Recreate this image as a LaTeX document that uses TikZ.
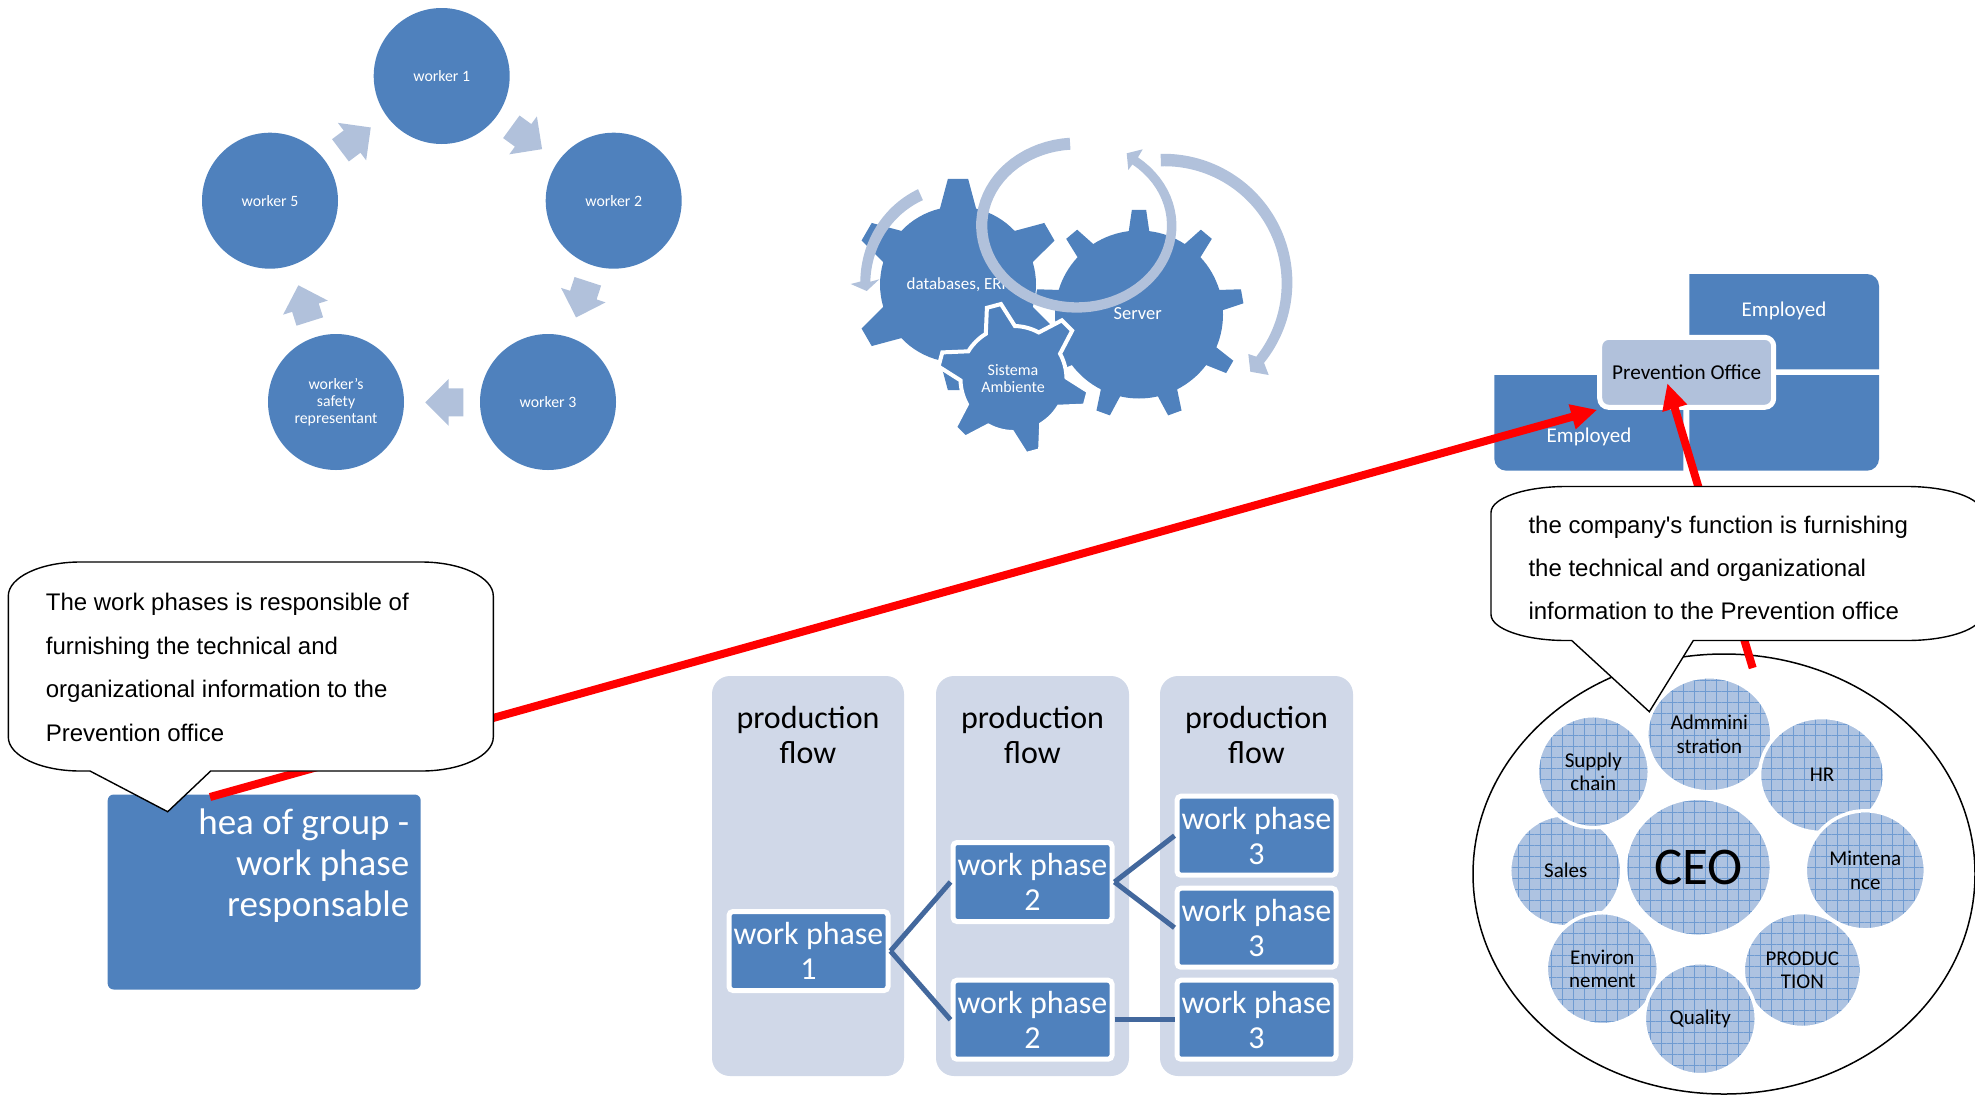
\documentclass[tikz,border=0pt]{standalone}
\usepackage{fontspec}
\setmainfont{Carlito}
\newfontfamily\bubblefont{Liberation Sans}
\usetikzlibrary{arrows.meta, positioning, shapes.arrows, shapes.geometric, patterns.meta}

\definecolor{officeblue}{HTML}{4F81BD}
\definecolor{ringblue}{HTML}{B1C1DB}
\definecolor{laneblue}{HTML}{D0D8E8}
\definecolor{linkblue}{HTML}{43689D}
\definecolor{cellblue}{HTML}{AEC3E1}
\definecolor{gridblue}{HTML}{6F9BD1}

\tikzset{
    workercircle/.style={circle, fill=officeblue, text=white, inner sep=0pt, minimum size=136pt, align=center, font=\fontsize{15.8}{17}\selectfont},
    cyclearrow/.style={single arrow, fill=ringblue, anchor=tip, inner xsep=0pt, inner ysep=13.75pt, minimum height=38pt, single arrow head extend=9.5pt, single arrow head indent=0pt},
    gearfill/.style={fill=officeblue},
    gearlabel/.style={text=white, inner sep=0pt, align=center, font=\fontsize{#1}{17}\selectfont},
    lane/.style={fill=laneblue, rounded corners=18pt},
    lanelabel/.style={inner sep=0pt, align=center, font=\fontsize{32}{35}\selectfont},
    phasebox/.style={rectangle, rounded corners=4pt, fill=officeblue, draw=white, line width=5pt, text=white, inner sep=0pt, minimum width=159pt, minimum height=79pt, align=center, font=\fontsize{32}{35}\selectfont},
    phaselink/.style={draw=linkblue, line width=5pt},
    employed/.style={fill=officeblue},
    employedlabel/.style={text=white, inner sep=0pt, font=\fontsize{21}{25}\selectfont},
    officebox/.style={rectangle, rounded corners=9pt, fill=ringblue, draw=white, line width=5pt, inner sep=0pt, minimum width=174pt, minimum height=70pt, font=\fontsize{21.2}{25}\selectfont},
    cell/.style={ellipse, fill=cellblue, inner sep=0pt, outer sep=0pt, align=center, font=\fontsize{21}{23.3}\selectfont,
        postaction={pattern={Lines[angle=0,distance=11pt,line width=0.6pt]}, pattern color=gridblue},
        postaction={pattern={Lines[angle=90,distance=11pt,line width=0.6pt]}, pattern color=gridblue},
        postaction={draw=white, line width=3.5pt}},
    bubble/.style={draw=black, fill=white, line width=1.4pt},
    bubbletext/.style={inner sep=0pt, align=left, anchor=west, font=\bubblefont\fontsize{24}{43.4}\selectfont},
    redarrow/.style={draw=red, line width=8pt, -{Triangle[length=26pt,width=24pt]}},
}

% options; centre; rim and tip radius; half angles of a tooth; first tooth; number of teeth
\newcommand{\gearshape}[9][]{%
    \pgfmathsetmacro{\gearstep}{360/#9}
    \begin{scope}[shift={(#2,#3)},y=1pt]
        \path[gearfill,#1] (#8-#6:#4)
            \foreach \i [evaluate=\i as \a using #8+(\i-1)*\gearstep] in {1,...,#9} {
                -- (\a-#7:#5) -- (\a+#7:#5) -- (\a+#6:#4)
                arc[start angle=\a+#6, delta angle=\gearstep-2*#6, radius=#4]
            } -- cycle;
    \end{scope}
}

% centre; radii; start and end angle; start and end width; the three points of the head
\newcommand{\ringarrow}[9]{%
    \fill[ringblue] plot[domain=#5:#6, samples=70, variable=\t]
            ({#1+(#3+(#7+(#8-#7)*(\t-#5)/(#6-#5))/2)*cos(\t)}, {#2-(#4+(#7+(#8-#7)*(\t-#5)/(#6-#5))/2)*sin(\t)})
        -- #9
        -- plot[domain=#6:#5, samples=70, variable=\t]
            ({#1+(#3-(#7+(#8-#7)*(\t-#5)/(#6-#5))/2)*cos(\t)}, {#2-(#4-(#7+(#8-#7)*(\t-#5)/(#6-#5))/2)*sin(\t)})
        -- cycle;
}

\begin{document}
\begin{tikzpicture}[x=1pt,y=-1pt]
    \useasboundingbox (0,0) rectangle (1975,1098);

    % worker cycle
    \node[workercircle] (worker1) at (441.7,76) {worker 1};
    \node[workercircle] (worker2) at (613.7,200.7) {worker 2};
    \node[workercircle] (worker3) at (548,402) {worker 3};
    \node[workercircle] (safety) at (336,402) {worker's\\safety\\representant};
    \node[workercircle] (worker5) at (270,200.7) {worker 5};
    \node[cyclearrow, rotate=-36] (arrow12) at (542.3,149.3) {};
    \node[cyclearrow, rotate=-108] (arrow23) at (576,317.7) {};
    \node[cyclearrow, rotate=180] (arrow34) at (425,402.3) {};
    \node[cyclearrow, rotate=107.5] (arrow45) at (298.3,285) {};
    \node[cyclearrow, rotate=37] (arrow51) at (371,127.3) {};

    % gears
    \gearshape{1139}{314.5}{84}{105}{7}{3.9}{-150}{9}
    \gearshape{958}{284.5}{78}{106}{13.4}{5.5}{-90}{6}
    \node[gearlabel=17] (databases) at (958.5,285) {databases, ERP};
    \node[gearlabel=18.5] (server) at (1137.7,313.5) {Server};
    \gearshape[draw=white, line width=4pt]{1013.5}{379}{53}{76}{16.5}{5.5}{-135}{6}
    \node[gearlabel=16] (ambiente) at (1013,379) {Sistema\\Ambiente};
    \ringarrow{958.3}{283.3}{93}{97}{114}{179}{12}{10}{(850.7,284) -- (866.7,291) -- (879.3,279.3)}
    \ringarrow{1076.7}{225.5}{95}{82}{94}{412}{12}{9}{(1142.7,149.3) -- (1126.7,153.3) -- (1128.3,170)}
    \ringarrow{1164}{283}{123}{123}{91.5}{-38.6}{12.5}{10}{(1268.7,375) -- (1250.3,371.7) -- (1248.3,354)}

    % production flow
    \fill[lane] (712,676) rectangle (904,1076);
    \fill[lane] (936,676) rectangle (1129,1076);
    \fill[lane] (1160,676) rectangle (1353,1076);
    \node[lanelabel] (flow1) at (808,735) {production\\flow};
    \node[lanelabel] (flow2) at (1032.5,735) {production\\flow};
    \node[lanelabel] (flow3) at (1256.5,735) {production\\flow};
    \node[phasebox] (phase1) at (808.5,951) {work phase\\1};
    \node[phasebox] (phase2a) at (1032.5,882) {work phase\\2};
    \node[phasebox] (phase2b) at (1032.5,1019.7) {work phase\\2};
    \node[phasebox] (phase3a) at (1256.5,835.7) {work phase\\3};
    \node[phasebox] (phase3b) at (1256.5,927.7) {work phase\\3};
    \node[phasebox] (phase3c) at (1256.5,1019.7) {work phase\\3};
    \draw[phaselink] (phase1.east) -- (phase2a.west);
    \draw[phaselink] (phase1.east) -- (phase2b.west);
    \draw[phaselink] (phase2a.east) -- (phase3a.west);
    \draw[phaselink] (phase2a.east) -- (phase3b.west);
    \draw[phaselink] (phase2b.east) -- (phase3c.west);

    % group head
    \node[rectangle, rounded corners=6pt, fill=officeblue, inner sep=0pt, minimum width=313pt, minimum height=195pt] (headbox) at (264.2,892) {};
    \node[text=white, inner sep=0pt, align=right, anchor=north east, font=\fontsize{37}{41}\selectfont] (headtext) at (409.5,808.5) {hea of group -\\work phase\\responsable};

    % employed blocks and office
    \fill[employed] (1689.3,274) -- (1867,274) arc[start angle=270, end angle=360, radius=12] -- (1879,369.3) -- (1689.3,369.3) -- cycle;
    \fill[employed] (1689.3,375) -- (1879,375) -- (1879,458.7) arc[start angle=0, end angle=90, radius=12] -- (1689.3,470.7) -- cycle;
    \fill[employed] (1683.3,375) -- (1683.3,470.7) -- (1506.3,470.7) arc[start angle=90, end angle=180, radius=12] -- (1494.3,375) -- cycle;
    \node[employedlabel] (employed1) at (1784,310.5) {Employed};
    \node[employedlabel] (employed2) at (1589,436.5) {Employed};
    \node[officebox] (office) at (1686.7,372.3) {Prevention Office};

    % departments
    \draw[line width=1.5pt] (1724,874) ellipse[x radius=251, y radius=220];
    \node[cell, minimum width=112pt, minimum height=112pt] (sales) at (1565.7,870.7) {Sales};
    \node[cell, minimum width=112pt, minimum height=112pt] (supply) at (1593.3,771.7) {Supply\\chain};
    \node[cell, minimum width=112pt, minimum height=112pt] (environment) at (1602.3,968.7) {Environ\\nement};
    \node[cell, minimum width=125pt, minimum height=115pt] (administration) at (1709.3,734.3) {Admmini\\stration};
    \node[cell, minimum width=125pt, minimum height=115pt] (hr) at (1822,775) {HR};
    \node[cell, minimum width=120pt, minimum height=119pt] (maintenance) at (1865.3,870.3) {Mintena\\nce};
    \node[cell, minimum width=118pt, minimum height=115pt] (production) at (1802.3,970) {PRODUC\\TION};
    \node[cell, minimum width=112pt, minimum height=112pt] (quality) at (1700.3,1018.7) {Quality};
    \node[cell, minimum width=146pt, minimum height=138pt, font=\fontsize{53}{60}\selectfont] (ceo) at (1698.3,867.3) {CEO};

    % red arrows
    \coordinate (redfoot1) at (210,797);
    \coordinate (redfoot2) at (1752.7,668);
    \coordinate (redtip2) at (1667.3,383.3);
    \draw[redarrow] (redfoot1) -- (office.south west);
    \draw[redarrow] (redfoot2) -- (redtip2);

    % callouts
    \draw[bubble] (80.3,562) -- (421.3,562) arc[start angle=270, end angle=360, x radius=72, y radius=34]
        -- (493.3,737) arc[start angle=0, end angle=90, x radius=72, y radius=34]
        -- (210.7,771) -- (167.7,811.7) -- (90,771)
        -- (80.3,771) arc[start angle=90, end angle=180, x radius=72, y radius=34]
        -- (8.3,596) arc[start angle=180, end angle=270, x radius=72, y radius=34] -- cycle;
    \node[bubbletext] (bubbleleft) at (45.7,667.5) {The work phases is responsible of\\furnishing the technical and\\organizational information to the\\Prevention office};
    \draw[bubble] (1566,486.5) -- (1907,486.5) arc[start angle=270, end angle=360, x radius=75, y radius=26]
        -- (1982,614.5) arc[start angle=0, end angle=90, x radius=75, y radius=26]
        -- (1693.3,640.5) -- (1649.3,711.7) -- (1571.7,640.5)
        -- (1566,640.5) arc[start angle=90, end angle=180, x radius=75, y radius=26]
        -- (1491,512.5) arc[start angle=180, end angle=270, x radius=75, y radius=26] -- cycle;
    \node[bubbletext] (bubbleright) at (1528.3,568) {the company's function is furnishing\\the technical and organizational\\information to the Prevention office};
\end{tikzpicture}
\end{document}
